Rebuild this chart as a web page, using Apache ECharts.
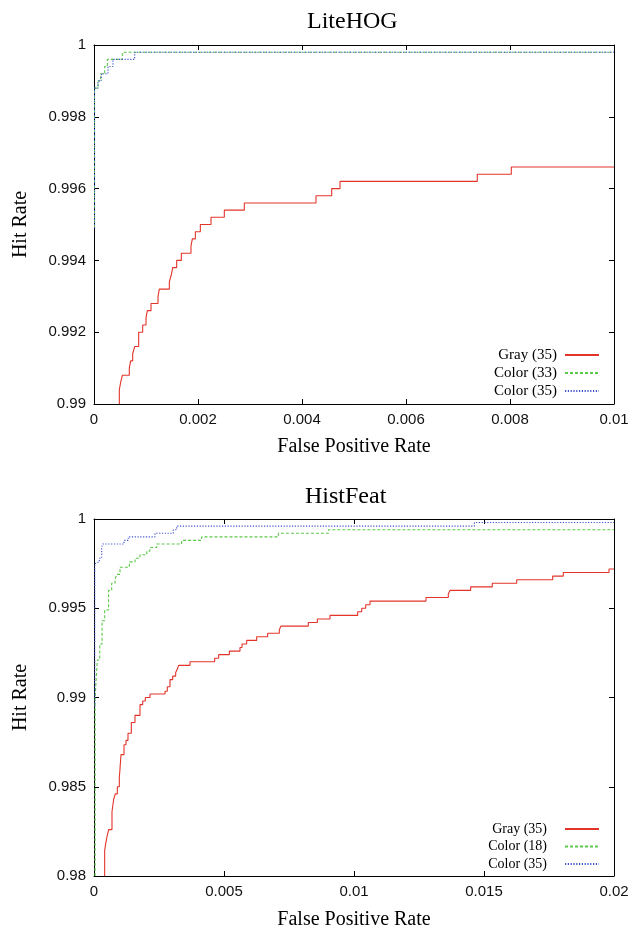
<!DOCTYPE html>
<html>
<head>
<meta charset="utf-8">
<script src="https://cdn.jsdelivr.net/npm/echarts@6/dist/echarts.min.js"></script>
<style>
html,body{margin:0;padding:0;background:#fff;}
#chart{width:633px;height:931px;}
</style>
</head>
<body>
<div id="chart"></div>
<script>
// ---------- Data ----------
var titles = ['LiteHOG', 'HistFeat'];
var seriesNamesTop = ['Gray (35)', 'Color (33)', 'Color (35)'];
var seriesNamesBottom = ['Gray (35)', 'Color (18)', 'Color (35)'];

// LiteHOG
var liteGrayFpr = [0.000487,0.000487,0.000513,0.000545,0.000679,0.000705,0.000744,0.000782,0.000859,0.000936,0.001000,0.001026,0.001096,0.001231,0.001256,0.001449,0.001487,0.001513,0.001590,0.001680,0.001865,0.001891,0.001949,0.002045,0.002250,0.002506,0.002891,0.004269,0.004571,0.004731,0.007371,0.008025,0.010000];
var liteGrayHit = [0.9900,0.9904,0.9906,0.9908,0.9910,0.9912,0.9914,0.9916,0.9920,0.9922,0.9924,0.9926,0.9928,0.9930,0.9932,0.9934,0.9936,0.9938,0.9940,0.9942,0.9944,0.9946,0.9948,0.9950,0.9952,0.9954,0.9956,0.9958,0.9960,0.9962,0.9964,0.9966,0.9966];
var liteColor33Fpr = [0.00001,0.00001,0.000077,0.000128,0.000205,0.000256,0.000545,0.010000];
var liteColor33Hit = [0.9949,0.9988,0.9990,0.9992,0.9994,0.9996,0.9998,0.9998];
var liteColor35Fpr = [0.00001,0.00001,0.000077,0.000140,0.000269,0.000365,0.000782,0.010000];
var liteColor35Hit = [0.9949,0.9988,0.9990,0.9992,0.9994,0.9996,0.9998,0.9998];

// HistFeat
var histGrayFpr = [0.00041,0.00041,0.000449,0.000500,0.000564,0.000692,0.000756,0.000820,0.000897,0.000974,0.001000,0.001038,0.001154,0.001231,0.001308,0.001436,0.001577,0.001769,0.001872,0.001974,0.002154,0.002731,0.002820,0.002923,0.003026,0.003141,0.003205,0.003256,0.003692,0.004641,0.004795,0.005205,0.005615,0.005692,0.005872,0.006256,0.006680,0.007128,0.007192,0.008244,0.008590,0.009077,0.010142,0.010296,0.010450,0.010615,0.012769,0.013627,0.013692,0.014487,0.015319,0.016258,0.017642,0.018050,0.019808,0.020000];
var histGrayHit = [0.9800,0.98143,0.9818,0.9822,0.9826,0.9836,0.9843,0.9846,0.9850,0.9855,0.9860,0.9868,0.98735,0.9876,0.9880,0.9886,0.9890,0.9896,0.9898,0.9900,0.9902,0.99035,0.9906,0.9910,0.9912,0.9914,0.9916,0.9918,0.9920,0.9922,0.9924,0.9926,0.9928,0.9930,0.9932,0.9934,0.9936,0.9938,0.9940,0.9942,0.9944,0.9946,0.9948,0.9950,0.9952,0.9954,0.9956,0.9958,0.9960,0.9962,0.9964,0.9966,0.9968,0.9970,0.9972,0.9972];
var histColor18Fpr = [0.00004,0.00004,0.00009,0.00013,0.00022,0.00031,0.00041,0.00056,0.00068,0.00081,0.00087,0.00100,0.00136,0.00158,0.00177,0.00203,0.00215,0.00241,0.00337,0.00414,0.00709,0.00902,0.02000];
var histColor18Hit = [0.9800,0.9899,0.9912,0.9921,0.9930,0.9943,0.9949,0.9960,0.9964,0.9966,0.9969,0.9973,0.9976,0.9978,0.9980,0.9982,0.9984,0.9986,0.9988,0.9990,0.9992,0.9994,0.9994];
var histColor35Fpr = [0.00003,0.00003,0.000077,0.000205,0.000295,0.000333,0.001154,0.001320,0.002346,0.003050,0.003180,0.014630,0.020000];
var histColor35Hit = [0.9895,0.9975,0.9976,0.9978,0.9984,0.9986,0.9988,0.9990,0.9992,0.9994,0.9996,0.9998,0.9998];

// Axis tick settings
var liteX = {min: 0, max: 0.01, interval: 0.002};
var liteY = {min: 0.99, max: 1, interval: 0.002};
var histX = {min: 0, max: 0.02, interval: 0.005};
var histY = {min: 0.98, max: 1, interval: 0.005};

// ---------- Chart ----------
function pairs(xs, ys) { return xs.map(function (x, i) { return [x, ys[i]]; }); }
function fmt(v) { return String(+v.toFixed(6)); }

var SERIF = '"Liberation Serif", "DejaVu Serif", serif';
var SANS = '"Liberation Sans", Arial, sans-serif';
var RED = '#e3342a', GREEN = '#5cc84a', BLUE = '#3e52cc';

var grids = [
  {left: 94, top: 45, width: 520, height: 359},
  {left: 94, top: 519, width: 520, height: 360}
];

function axisPair(kind, gridIndex, rng, name, nameGap) {
  var base = {
    type: 'value', gridIndex: gridIndex, min: rng.min, max: rng.max, interval: rng.interval,
    axisLine: {show: true, onZero: false, lineStyle: {color: '#000', width: 1}},
    axisTick: {show: true, inside: true, length: 5, lineStyle: {color: '#000', width: 1}},
    splitLine: {show: false}
  };
  var main = Object.assign({}, base, {
    position: kind === 'x' ? 'bottom' : 'left',
    axisLabel: {show: true, formatter: fmt, color: '#111', fontFamily: SANS, fontSize: 15, margin: 8},
    name: name, nameLocation: 'middle', nameGap: nameGap,
    nameTextStyle: {fontFamily: SERIF, fontSize: 20, color: '#000'}
  });
  if (kind === 'y') main.nameRotate = 90;
  var mirror = Object.assign({}, base, {
    position: kind === 'x' ? 'top' : 'right',
    axisLabel: {show: false}
  });
  return [main, mirror];
}

var xAxes = [].concat(
  axisPair('x', 0, liteX, 'False Positive Rate', 33),
  axisPair('x', 1, histX, 'False Positive Rate', 34)
);
var yAxes = [].concat(
  axisPair('y', 0, liteY, 'Hit Rate', 63),
  axisPair('y', 1, histY, 'Hit Rate', 63)
);

function mkSeries(name, xs, ys, color, type, ax) {
  return {
    name: name, type: 'line', step: 'end', symbol: 'none', showSymbol: false,
    xAxisIndex: ax, yAxisIndex: ax, data: pairs(xs, ys), clip: true,
    lineStyle: {color: color, width: 1.1, type: type}, itemStyle: {color: color},
    animation: false, z: 3
  };
}

var series = [
  mkSeries(seriesNamesTop[0], liteGrayFpr, liteGrayHit, RED, 'solid', 0),
  mkSeries(seriesNamesTop[1], liteColor33Fpr, liteColor33Hit, GREEN, [3, 2], 0),
  mkSeries(seriesNamesTop[2], liteColor35Fpr, liteColor35Hit, BLUE, [1.2, 1.6], 0),
  mkSeries(seriesNamesBottom[0], histGrayFpr, histGrayHit, RED, 'solid', 2),
  mkSeries(seriesNamesBottom[1], histColor18Fpr, histColor18Hit, GREEN, [3, 2], 2),
  mkSeries(seriesNamesBottom[2], histColor35Fpr, histColor35Hit, BLUE, [1.2, 1.6], 2)
];

var legendItemStyle = {opacity: 0, borderWidth: 0};

var chart = echarts.init(document.getElementById('chart'), null, {renderer: 'canvas'});
chart.setOption({
  backgroundColor: '#fff',
  animation: false,
  grid: grids,
  xAxis: xAxes,
  yAxis: yAxes,
  legend: [
    {data: seriesNamesTop, orient: 'vertical', align: 'right', right: 33, top: 347.5, padding: 0,
     itemWidth: 34, itemHeight: 10, itemGap: 3, selectedMode: false, itemStyle: legendItemStyle,
     textStyle: {fontFamily: SERIF, fontSize: 15, color: '#000', padding: [0, 3, 0, 0]}},
    {data: seriesNamesBottom, orient: 'vertical', align: 'right', right: 33, top: 822, padding: 0,
     itemWidth: 34, itemHeight: 10, itemGap: 3.5, selectedMode: false, itemStyle: legendItemStyle,
     textStyle: {fontFamily: SERIF, fontSize: 14, color: '#000', padding: [0, 13, 0, 0]}}
  ],
  graphic: [
    {type: 'text', left: 354 - 47, top: 10, style: {text: titles[0], font: '24px ' + SERIF, fill: '#000'}},
    {type: 'text', left: 354 - 49, top: 485, style: {text: titles[1], font: '24px ' + SERIF, fill: '#000'}}
  ],
  series: series
});
</script>
</body>
</html>
